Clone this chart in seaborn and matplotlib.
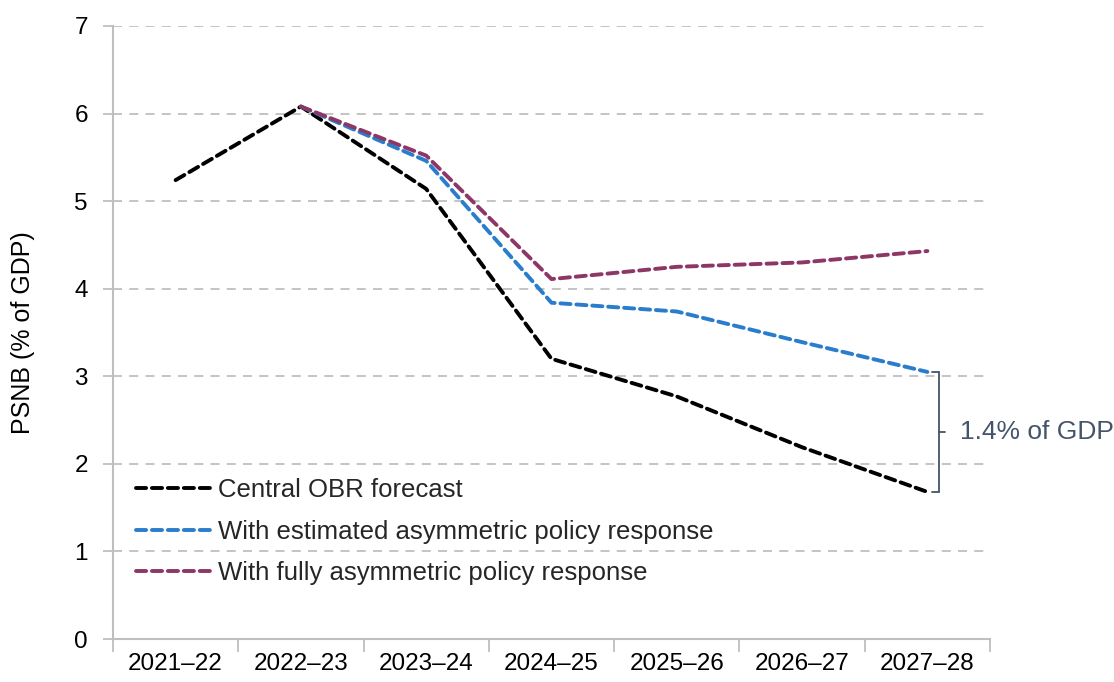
import numpy as np
import pandas as pd
import seaborn as sns
import matplotlib.pyplot as plt
from matplotlib.ticker import FixedLocator

# data
years = ['2021–22', '2022–23', '2023–24', '2024–25', '2025–26', '2026–27', '2027–28']
central = [5.24, 6.08, 5.14, 3.20, 2.77, 2.19, 1.68]
estimated = [np.nan, 6.08, 5.46, 3.84, 3.74, 3.39, 3.05]
fully = [np.nan, 6.08, 5.52, 4.11, 4.25, 4.30, 4.43]
gap_label = '1.4% of GDP'

sns.set_theme(style='white')
plt.rcParams['font.family'] = ['Liberation Sans', 'DejaVu Sans']

fig = plt.figure(figsize=(11.14, 6.82), dpi=100)
ax = fig.add_axes([0.1014, 0.063, 0.7873, 0.8989])

x = np.arange(len(years))
series = [
    ('Central OBR forecast', central, '#000000'),
    ('With estimated asymmetric policy response', estimated, '#2A7DCD'),
    ('With fully asymmetric policy response', fully, '#8C3765'),
]
for name, vals, col in series:
    df = pd.DataFrame({'x': x, 'y': vals}).dropna()
    sns.lineplot(data=df, x='x', y='y', ax=ax, color=col, label=name,
                 linewidth=2.8, linestyle=(0, (2.6, 1.5)), zorder=3)
for line in ax.get_lines():
    line.set_dash_capstyle('round')

# axes styling, Excel-like
ax.set_xlim(-0.5, len(years) - 0.5)
ax.set_ylim(0, 7)
ax.set_yticks(range(0, 8))
ax.set_xticks(x)
ax.set_xticklabels(years)
ax.xaxis.set_minor_locator(FixedLocator(np.arange(-0.5, len(years), 1.0)))
ax.tick_params(axis='x', which='major', length=0, pad=10, labelsize=17.5, colors='black')
ax.tick_params(axis='x', which='minor', length=9, width=1.3, color='#BFBFBF', bottom=True)
ax.tick_params(axis='y', which='major', length=7, width=1.3, color='#BFBFBF', left=True,
               labelsize=17.5, pad=11, labelcolor='black')
ax.set_xlabel('')
ax.set_ylabel('PSNB (% of GDP)', fontsize=18, labelpad=28, color='black')

for s in ['top', 'right']:
    ax.spines[s].set_visible(False)
for s in ['left', 'bottom']:
    ax.spines[s].set_color('#BFBFBF')
    ax.spines[s].set_linewidth(1.5)

for v in range(1, 8):
    ax.axhline(v, color='#BFBFBF', linewidth=1.3, linestyle=(0, (5, 4)), zorder=1)

# bracket showing the gap in 2027-28
bx = len(years) - 1 + 0.09
top, bot = estimated[-1], central[-1]
mid = (top + bot) / 2
ax.plot([bx - 0.05, bx, bx, bx - 0.05], [top, top, bot, bot], color='#44546A',
        linewidth=1.3, solid_joinstyle='miter', clip_on=False, zorder=4)
ax.plot([bx, bx + 0.05], [mid, mid], color='#44546A', linewidth=1.3, clip_on=False)
ax.text(bx + 0.17, mid, gap_label, color='#44546A', fontsize=19, va='center',
        ha='left', clip_on=False)

leg = ax.legend(loc='lower left', bbox_to_anchor=(0.0, 0.05), frameon=False,
                fontsize=18.5, handlelength=3.0, handletextpad=0.2, labelspacing=0.68)

fig.savefig('out.png', dpi=100)
